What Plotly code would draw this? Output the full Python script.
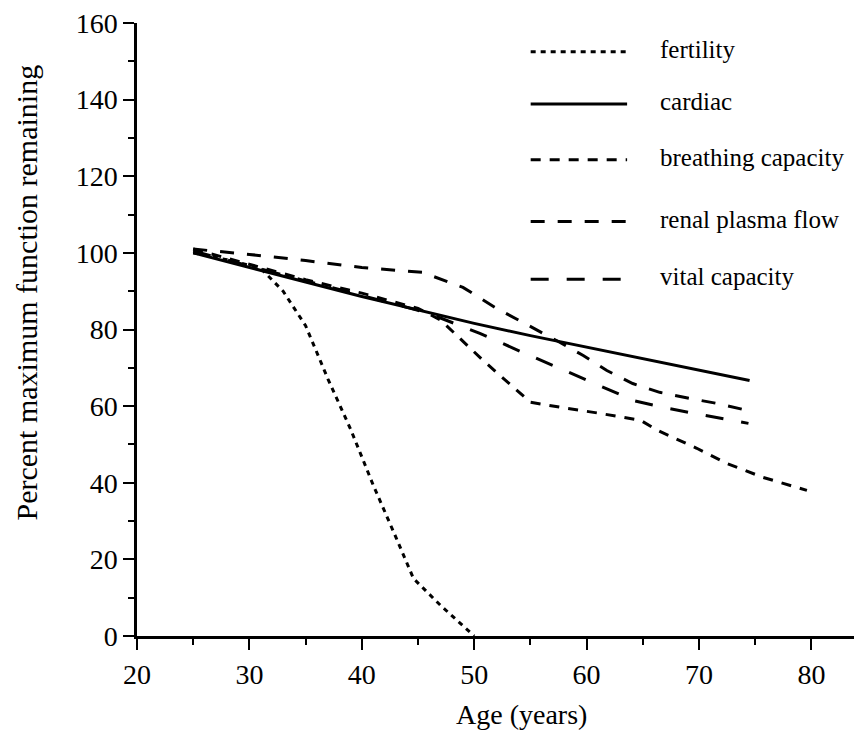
import plotly.graph_objects as go

# ---- data ----
fertility_age = [25, 28, 31, 33, 35, 37, 39, 41, 43, 44.6, 47, 50]
fertility = [100, 98.2, 96, 90, 81, 67, 54, 39.5, 26, 15, 8, 0]

cardiac_age = [25, 30, 35, 40, 45, 50, 55, 60, 65, 70, 74.5]
cardiac = [100, 96.3, 92.4, 88.6, 85, 81.6, 78.4, 75.4, 72.4, 69.4, 66.7]

breathing_age = [25, 30, 35, 40, 45, 47, 50.8, 53.5, 55, 58.3, 61, 64.8, 66.3, 69.8, 72.5, 75.7, 79.6]
breathing = [101, 97, 93, 89.5, 85.5, 82.5, 71.9, 64.9, 61, 59.4, 58.2, 56.3, 53.7, 49, 45, 41.4, 38]

renal_age = [25, 30, 35, 40, 45.4, 49, 52, 55.2, 57.4, 59.7, 61.8, 64.1, 66.5, 69.2, 71.6, 74.7]
renal = [101, 99.6, 98, 96.2, 94.9, 91, 85.5, 80.5, 77, 73.2, 69.3, 65.9, 63.6, 62, 60.7, 58.6]

vital_age = [25, 30, 35, 40, 45, 47, 50.5, 54.1, 57.2, 60.3, 63.4, 64.1, 66.8, 70.1, 74.4]
vital = [100.5, 96.5, 92.7, 88.9, 85, 83, 79, 74.3, 70.4, 66.4, 62.5, 61.5, 59.7, 57.8, 55.5]

series_names = ["fertility", "cardiac", "breathing capacity", "renal plasma flow", "vital capacity"]
x_ticks = [20, 30, 40, 50, 60, 70, 80]
y_ticks = [0, 20, 40, 60, 80, 100, 120, 140, 160]
x_title = "Age (years)"
y_title = "Percent maximum function remaining"

# ---- styles ----
dashes = ["5px,5px", "solid", "10px,9px", "14px,13px", "18px,18px"]
FONT = "Liberation Serif, Times New Roman, serif"

series = [
    (fertility_age, fertility),
    (cardiac_age, cardiac),
    (breathing_age, breathing),
    (renal_age, renal),
    (vital_age, vital),
]

fig = go.Figure()
for (xs, ys), name, dash in zip(series, series_names, dashes):
    fig.add_trace(go.Scatter(x=xs, y=ys, mode="lines", name=name,
                             line=dict(color="black", width=3, dash=dash),
                             showlegend=False))

# hand-drawn style legend (layout decoration)
legend_rows_y = [0.953, 0.868, 0.777, 0.676, 0.582]
for name, dash, ry in zip(series_names, dashes, legend_rows_y):
    fig.add_shape(type="line", xref="paper", yref="paper",
                  x0=0.543, x1=0.676, y0=ry, y1=ry,
                  line=dict(color="black", width=3, dash=dash))
    fig.add_annotation(xref="paper", yref="paper", x=0.719, y=ry + 0.004,
                       text=name, showarrow=False, xanchor="left", yanchor="middle",
                       font=dict(family=FONT, size=25, color="black"))

fig.add_annotation(xref="paper", yref="paper", x=-0.152, y=0.56, text=y_title,
                   textangle=-90, showarrow=False, xanchor="center", yanchor="middle",
                   font=dict(family=FONT, size=30, color="black"))
fig.add_annotation(xref="paper", yref="paper", x=0.531, y=-0.128, text=x_title,
                   showarrow=False, xanchor="center", yanchor="middle",
                   font=dict(family=FONT, size=28, color="black"))

# page body has an 8px margin, so the figure is offset by 8px
fig.update_layout(
    width=854, height=739,
    margin=dict(l=129, r=0, t=13, b=111),
    paper_bgcolor="white", plot_bgcolor="white",
    font=dict(family=FONT, color="black"),
    showlegend=False,
)
fig.update_xaxes(range=[20, 84.5], tickvals=x_ticks, ticktext=[str(v) for v in x_ticks],
                 showgrid=False, zeroline=False, showline=True, linecolor="black", linewidth=3,
                 ticks="outside", ticklen=11, tickwidth=2, tickcolor="black",
                 ticklabeloverflow="allow",
                 tickfont=dict(family=FONT, size=28, color="black"),
                 minor=dict(dtick=5, tick0=20, ticks="outside", ticklen=6, tickwidth=2, tickcolor="black"))
fig.update_yaxes(range=[0, 160], tickvals=y_ticks, ticktext=[str(v) for v in y_ticks],
                 showgrid=False, zeroline=False, showline=True, linecolor="black", linewidth=2.5,
                 ticks="outside", ticklen=11, tickwidth=2, tickcolor="black",
                 ticklabeloverflow="allow",
                 tickfont=dict(family=FONT, size=28, color="black"),
                 minor=dict(dtick=10, tick0=0, ticks="outside", ticklen=6, tickwidth=2, tickcolor="black"))

fig.write_html("out.html")
